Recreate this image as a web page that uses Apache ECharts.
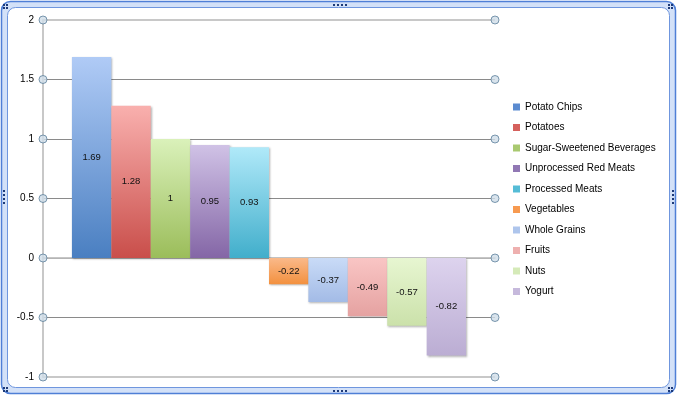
<!DOCTYPE html>
<html><head><meta charset="utf-8">
<script src="https://cdn.jsdelivr.net/npm/echarts@6/dist/echarts.min.js"></script>
<style>html,body{margin:0;padding:0;background:#fff}#c{width:679px;height:398px}</style>
</head><body><div id="c"></div>
<script>
const foods = ['Potato Chips','Potatoes','Sugar-Sweetened Beverages','Unprocessed Red Meats','Processed Meats','Vegetables','Whole Grains','Fruits','Nuts','Yogurt'];
const values = [1.69, 1.28, 1, 0.95, 0.93, -0.22, -0.37, -0.49, -0.57, -0.82];
const yTicks = [-1, -0.5, 0, 0.5, 1, 1.5, 2];
const topColors = ['#b0cbf6','#f9b0ae','#daf1ba','#d0c2e6','#b0e9f9','#fab98a','#c9dbf7','#f9c5c4','#e7f6d1','#ddd3ee'];
const bottomColors = ['#4a7fc1','#c94e4a','#9bbd5a','#8466a6','#41aecb','#f3913f','#a3bbe6','#e5a2a1','#cbe1aa','#bbadd3'];
const iconColors = ['#5b8bd0','#d5605c','#a9c970','#9178b4','#55bcd6','#f79a50','#aec5ec','#eeb0af','#d5eab8','#c6b9dc'];

const chart = echarts.init(document.getElementById('c'), null, {renderer:'canvas'});
const FONT = 'Liberation Sans';

const barSeries = foods.map((name, i) => ({
  name: name,
  type: 'bar',
  xAxisIndex: 0,
  barGap: '0%',
  barCategoryGap: '12.8%',
  data: [values[i]],
  itemStyle: {
    color: new echarts.graphic.LinearGradient(0, 0, 0, 1, [
      {offset: 0, color: topColors[i]},
      {offset: 1, color: bottomColors[i]}
    ]),
    shadowColor: 'rgba(0,0,0,0.3)', shadowBlur: 2, shadowOffsetX: 1, shadowOffsetY: 1
  },
  label: {show: true, position: 'inside', color: '#111', fontFamily: FONT, fontSize: 9.5,
    formatter: p => String(p.value)},
  emphasis: {disabled: true},
  z: 3
}));

barSeries[0].markLine = {
  silent: true, symbol: 'none', label: {show: false},
  lineStyle: {color: '#c8c8c8', width: 2, type: 'solid'},
  data: [{yAxis: yTicks[0]}, {yAxis: yTicks[yTicks.length - 1]}],
  z: 1
};

const circleSeries = {
  type: 'scatter',
  xAxisIndex: 1,
  symbol: 'circle',
  symbolSize: 8,
  clip: false,
  silent: true,
  itemStyle: {color: '#d0dde8', borderColor: '#5d7f9b', borderWidth: 1},
  data: yTicks.flatMap(v => [[0, v], [1, v]]),
  z: 6
};

const gridColors = yTicks.map(v => v === 0 ? '#b4b4b4' : '#8a8a8a');

// selection-handle dots on the chart frame (decoration)
function dots(x0, y0, cols, rows, dx, dy) {
  const out = [];
  for (let c = 0; c < cols; c++) for (let r = 0; r < rows; r++)
    out.push({type: 'rect', z: 10, shape: {x: x0 + c * dx, y: y0 + r * dy, width: 2, height: 2},
      style: {fill: '#1d3a78'}});
  return out;
}
const handleDots = [
  ...dots(3, 4, 2, 2, 3, 3),
  ...dots(668, 4, 2, 2, 3, 3),
  ...dots(3, 387, 2, 2, 3, 3),
  ...dots(668, 387, 2, 2, 3, 3),
  ...dots(333, 4, 4, 1, 4, 0),
  ...dots(333, 390, 4, 1, 4, 0),
  ...dots(672, 190, 1, 4, 0, 4),
  ...dots(3, 190, 1, 4, 0, 4)
];

chart.setOption({
  animation: false,
  backgroundColor: 'transparent',
  graphic: [
    {type: 'rect', z: -10, shape: {x: 1.5, y: 1.5, width: 674, height: 392, r: 9},
      style: {fill: '#d3e1f8', stroke: '#4f7fd6', lineWidth: 1.5}},
    {type: 'rect', z: -9, shape: {x: 7.5, y: 7.5, width: 662, height: 380, r: 8},
      style: {fill: '#ffffff', stroke: '#6f96de', lineWidth: 1}},
    ...handleDots
  ],
  grid: {left: 43, right: 184, top: 20, bottom: 21, containLabel: false},
  legend: {
    data: foods.map((n, i) => ({name: n, itemStyle: {color: iconColors[i]}})),
    orient: 'vertical',
    left: 513, top: 100, padding: 0,
    itemWidth: 7, itemHeight: 7, itemGap: 6.5,
    icon: 'rect',
    selectedMode: false,
    textStyle: {fontFamily: FONT, fontSize: 10, color: '#000', lineHeight: 14}
  },
  xAxis: [
    {type: 'category', data: [''], axisTick: {show: false}, axisLabel: {show: false},
      axisLine: {show: true, onZero: true, lineStyle: {color: '#b4b4b4', width: 1.5}}, splitLine: {show: false}},
    {type: 'value', min: 0, max: 1, show: false}
  ],
  yAxis: {
    type: 'value', min: yTicks[0], max: yTicks[yTicks.length - 1], interval: 0.5,
    axisLine: {show: true, lineStyle: {color: '#c8c8c8', width: 2}},
    axisTick: {show: false},
    axisLabel: {color: '#000', fontFamily: FONT, fontSize: 10, margin: 9},
    splitLine: {show: true, lineStyle: {color: gridColors, width: 1}}
  },
  series: [...barSeries, circleSeries]
});
</script>
</body></html>
